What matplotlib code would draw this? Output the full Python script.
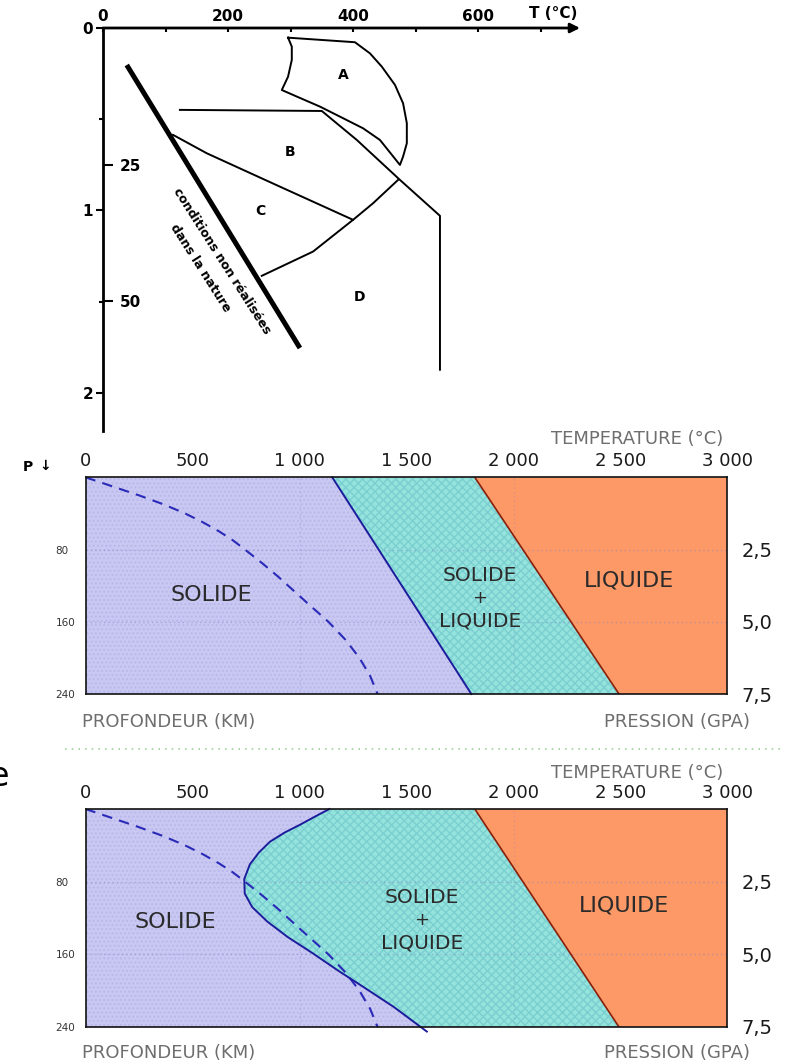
import numpy as np
import matplotlib
matplotlib.use("Agg")
import matplotlib.pyplot as plt
from matplotlib.lines import Line2D
from matplotlib.ticker import MultipleLocator

# ---------------- data : upper diagram (T in °C, P in GPa) ----------------
top_T_ticks = [0, 200, 400, 600]
top_P_ticks = [0, 1, 2]
top_P_minor = [0.5, 1.5]
depth_km_labels = ["25", "50"]
depth_km_P = [0.75, 1.495]

zone_A_T = [296, 403, 427, 446, 467, 480, 486, 486, 480, 475, 443, 416, 379, 347, 310, 286, 296, 302, 302, 296]
zone_A_P = [0.053, 0.078, 0.139, 0.212, 0.312, 0.413, 0.522, 0.632, 0.705, 0.751, 0.614, 0.55, 0.486,
            0.431, 0.376, 0.34, 0.267, 0.175, 0.102, 0.053]
line_B_T = [123, 350, 406, 475, 539, 539]
line_B_P = [0.449, 0.455, 0.614, 0.833, 1.03, 1.874]
line_BC_T = [112, 166, 283, 400]
line_BC_P = [0.586, 0.687, 0.870, 1.052]
line_CD_T = [254, 336, 400, 432, 472]
line_CD_P = [1.359, 1.226, 1.052, 0.961, 0.833]
limit_T = [38, 315]
limit_P = [0.203, 1.755]
zone_names = ["A", "B", "C", "D"]
zone_T = [384, 299, 251, 411]
zone_P = [0.26, 0.68, 1.003, 1.474]

# ---------------- data : phase diagrams (T in °C, depth in km) ----------------
temp_ticks = [0, 500, 1000, 1500, 2000, 2500, 3000]
temp_labels = ["0", "500", "1 000", "1 500", "2 000", "2 500", "3 000"]
depth_ticks = [80, 160, 240]
pressure_labels = ["2,5", "5,0", "7,5"]

geotherm_T = [0, 125, 250, 365, 465, 550, 625, 690, 745, 825, 900, 970, 1040, 1135, 1215, 1280, 1330, 1365]
geotherm_d = [0, 10, 20, 30, 40, 50, 60, 70, 80, 95, 110, 125, 140, 160, 180, 200, 220, 240]

liquidus_T = [1819, 2493]
liquidus_d = [0, 240]
solidus_dry_T = [1153, 1803]
solidus_dry_d = [0, 240]
solidus_wet_T = [1140, 1075, 1005, 930, 862, 810, 768, 742, 744, 779, 850, 945, 1063, 1181, 1299, 1441, 1595]
solidus_wet_d = [0, 8, 17, 26, 36, 48, 61, 77, 93, 108, 124, 141, 159, 178, 196, 218, 245]

W, H = 791, 1063
fig = plt.figure(figsize=(W / 100, H / 100), dpi=100)


def px_axes(l, t, r, b):
    return fig.add_axes([l / W, 1 - b / H, (r - l) / W, (b - t) / H])


# ======================= upper diagram =======================
axT = px_axes(103, 28, 580, 431)
axT.set_xlim(0, 763)
axT.set_ylim(2.21, 0)
axT.patch.set_alpha(0)
for s in ["right", "bottom", "top"]:
    axT.spines[s].set_visible(False)
axT.spines["left"].set_linewidth(2)
axT.xaxis.tick_top()
axT.set_xticks(top_T_ticks, [str(v) for v in top_T_ticks])
axT.xaxis.set_minor_locator(MultipleLocator(100))
axT.tick_params(axis="x", which="both", direction="in", length=3, width=1.5, pad=3,
                labelsize=11)
axT.set_yticks(top_P_ticks, [str(v) for v in top_P_ticks])
axT.set_yticks(top_P_minor, minor=True)
axT.tick_params(axis="y", which="major", direction="out", length=5, width=1.5, pad=2, labelsize=11)
axT.tick_params(axis="y", which="minor", direction="out", length=3, width=1.5)
for lab in axT.get_xticklabels() + axT.get_yticklabels():
    lab.set_fontweight("bold")

axD = axT.twinx()
axD.set_ylim(axT.get_ylim())
for s in axD.spines.values():
    s.set_visible(False)
axD.spines["right"].set_position(("axes", 0))
axD.set_yticks(depth_km_P, depth_km_labels)
axD.tick_params(axis="y", direction="out", length=7, width=1.5, pad=5, labelsize=11)
for lab in axD.get_yticklabels():
    lab.set_fontweight("bold")

axT.annotate("", xy=(763, 0), xytext=(0, 0),
             arrowprops=dict(arrowstyle="-|>", color="k", lw=2, mutation_scale=14,
                             shrinkA=0, shrinkB=0), annotation_clip=False)
axT.annotate("T (°C)", xy=(720, 0), xytext=(0, 5), textcoords="offset points",
             ha="center", va="bottom", fontsize=11, fontweight="bold")

axT.plot(zone_A_T, zone_A_P, color="k", lw=1.4)
axT.plot(line_B_T, line_B_P, color="k", lw=1.4)
axT.plot(line_BC_T, line_BC_P, color="k", lw=1.4)
axT.plot(line_CD_T, line_CD_P, color="k", lw=1.4)
axT.plot(limit_T, limit_P, color="k", lw=3.6, solid_capstyle="butt")
for n, t, p in zip(zone_names, zone_T, zone_P):
    axT.text(t, p, n, ha="center", va="center", fontsize=10, fontweight="bold")
axT.text(190, 1.276, "conditions non réalisées", rotation=-57.5, rotation_mode="anchor",
         ha="center", va="center", fontsize=9, fontweight="bold")
axT.text(155, 1.317, "dans la nature", rotation=-57.5, rotation_mode="anchor",
         ha="center", va="center", fontsize=9, fontweight="bold")

fig.text(28 / W, 1 - 467 / H, "P", fontsize=10, fontweight="bold", ha="center", va="center")
fig.text(45 / W, 1 - 466 / H, "↓", fontsize=10, fontweight="bold", ha="center", va="center")

# ======================= phase diagrams =======================
C_SOLID = "#c9c8f2"
C_SOLID_H = "#b9b8ea"
C_MIX = "#94e3dd"
C_MIX_H = "#7ccfd0"
C_LIQ = "#fd9966"
LABEL_C = "#2b2b2b"
TITLE_C = "#6e6e6e"


def phase_panel(top, bottom, sol_T, sol_d, txt):
    ax = px_axes(85.5, top, 727.5, bottom)
    ax.set_xlim(0, 3000)
    ax.set_ylim(240, 0)
    ax.fill([0] + sol_T + [0], [0] + sol_d + [sol_d[-1]], facecolor=C_SOLID,
            edgecolor=C_SOLID_H, hatch="....", lw=0)
    ax.fill(sol_T + liquidus_T[::-1], sol_d + liquidus_d[::-1], facecolor=C_MIX,
            edgecolor=C_MIX_H, hatch="xxxx", lw=0)
    ax.fill(liquidus_T + [3000, 3000], liquidus_d + [240, 0], facecolor=C_LIQ, lw=0)
    for d in depth_ticks[:2]:
        ax.axhline(d, color="#8080c8", alpha=0.55, lw=0.9, ls=(0, (1, 2.5)))
    for t in temp_ticks[2:5:2]:
        ax.axvline(t, color="#8080c8", alpha=0.35, lw=0.9, ls=(0, (1, 2.5)))
    ax.plot(geotherm_T, geotherm_d, color="#2a2ab8", lw=1.5, ls=(0, (5, 3.5)))
    ax.plot(sol_T, sol_d, color="#1c1c9c", lw=1.4, clip_on=False)
    ax.plot(liquidus_T, liquidus_d, color="#8a1f0a", lw=1.2)
    for s in ax.spines.values():
        s.set_linewidth(1.2)
        s.set_color("#111111")
    ax.xaxis.tick_top()
    ax.set_xticks(temp_ticks, temp_labels)
    ax.tick_params(axis="x", length=0, pad=5, labelsize=13, labelcolor="#1a1a1a")
    ax.set_yticks(depth_ticks, [str(v) for v in depth_ticks])
    ax.tick_params(axis="y", length=0, pad=21.5, labelsize=7.5, labelcolor="#333333")
    for lab in ax.get_yticklabels():
        lab.set_horizontalalignment("left")
    axR = ax.twinx()
    axR.set_ylim(240, 0)
    for s in axR.spines.values():
        s.set_visible(False)
    axR.set_yticks(depth_ticks, pressure_labels)
    axR.tick_params(axis="y", length=0, pad=10, labelsize=14, labelcolor="#1a1a1a")

    (sx, sy), (mx, my0, dmy), (lx, ly), (ty, by) = txt
    ax.text(sx, sy, "SOLIDE", ha="center", va="center", fontsize=16, color=LABEL_C)
    ax.text(mx, my0, "SOLIDE", ha="center", va="center", fontsize=14.5, color=LABEL_C)
    ax.text(mx, my0 + dmy, "+", ha="center", va="center", fontsize=13, color=LABEL_C)
    ax.text(mx, my0 + 2 * dmy, "LIQUIDE", ha="center", va="center", fontsize=14.5, color=LABEL_C)
    ax.text(lx, ly, "LIQUIDE", ha="center", va="center", fontsize=16, color=LABEL_C)
    ax.text(0.86, ty, "TEMPERATURE (°C)", transform=ax.transAxes, ha="center", va="center",
            fontsize=13, color=TITLE_C)
    ax.text(0.13, by, "PROFONDEUR (KM)", transform=ax.transAxes, ha="center", va="center",
            fontsize=13, color=TITLE_C)
    ax.text(0.922, by, "PRESSION (GPA)", transform=ax.transAxes, ha="center", va="center",
            fontsize=13, color=TITLE_C)
    return ax


phase_panel(477.3, 694, solidus_dry_T, solidus_dry_d,
            ((590, 130), (1843, 109, 25), (2540, 114), (1.176, -0.13)))
phase_panel(809, 1027, solidus_wet_T, solidus_wet_d,
            ((422, 124), (1571, 97, 25.5), (2516, 106), (1.165, -0.12)))

fig.add_artist(Line2D([65 / W, 783 / W], [1 - 749 / H] * 2, transform=fig.transFigure,
                      color="#9fd49a", lw=1.2, ls=(0, (1, 3))))
fig.text(9 / W, 1 - 786 / H, "e", ha="right", va="baseline", fontsize=24)

fig.savefig("out.png", dpi=100)
